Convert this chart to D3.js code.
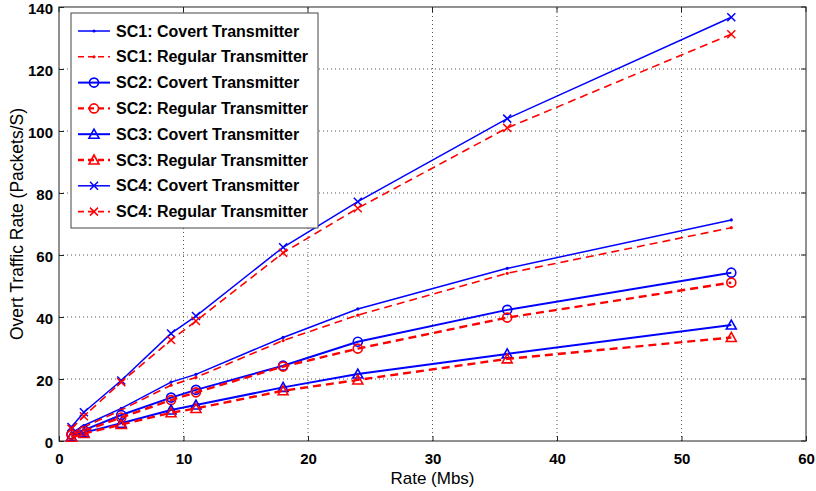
<!DOCTYPE html>
<html>
<head>
<meta charset="utf-8">
<script src="https://cdn.jsdelivr.net/npm/d3@7/dist/d3.min.js"></script>
<style>
  html, body { margin: 0; padding: 0; background: #fff; }
  svg { display: block; }
  .tick text { font-family: "Liberation Sans", Arial, sans-serif; font-weight: bold; font-size: 15px; fill: #000; }
</style>
</head>
<body>
<svg id="chart" width="816" height="491"></svg>
<script>
// Data rates (Mbps) at which the traffic was measured
const rates = [1, 2, 5, 9, 11, 18, 24, 36, 54];

// Overt traffic rate (packets/s) per scenario and transmitter type
const sc1Covert  = [2.5, 5.0, 10.5, 19.0, 21.5, 33.4, 42.6, 55.7, 71.3];
const sc1Regular = [2.3, 4.5, 10.0, 18.0, 20.5, 32.4, 40.6, 54.1, 68.8];
const sc2Covert  = [2.2, 3.5, 8.4, 14.0, 16.5, 24.3, 32.0, 42.3, 54.3];
const sc2Regular = [2.0, 3.2, 7.6, 13.2, 15.7, 24.0, 29.8, 39.8, 51.1];
const sc3Covert  = [1.4, 2.7, 5.7, 10.0, 11.6, 17.3, 21.6, 28.1, 37.4];
const sc3Regular = [1.2, 2.4, 5.3, 9.1, 10.5, 16.2, 19.7, 26.5, 33.4];
const sc4Covert  = [4.5, 9.3, 19.5, 34.7, 40.3, 62.5, 77.2, 104.0, 136.7];
const sc4Regular = [4.0, 8.0, 19.0, 32.6, 38.7, 60.7, 75.1, 101.0, 131.2];

const xTicks = [0, 10, 20, 30, 40, 50, 60];
const yTicks = [0, 20, 40, 60, 80, 100, 120, 140];

const seriesNames = [
  "SC1: Covert Transmitter", "SC1: Regular Transmitter",
  "SC2: Covert Transmitter", "SC2: Regular Transmitter",
  "SC3: Covert Transmitter", "SC3: Regular Transmitter",
  "SC4: Covert Transmitter", "SC4: Regular Transmitter"
];
const seriesValues = [sc1Covert, sc1Regular, sc2Covert, sc2Regular,
                      sc3Covert, sc3Regular, sc4Covert, sc4Regular];
const markers = ["dot", "dot", "circle", "circle", "triangle", "triangle", "cross", "cross"];

const BLUE = "#0000ff", RED = "#ff0000";
const series = seriesNames.map((name, i) => ({
  name,
  values: seriesValues[i],
  marker: markers[i],
  covert: i % 2 === 0,
  color: i % 2 === 0 ? BLUE : RED,
  width: (markers[i] === "circle" || markers[i] === "triangle") ? (i % 2 === 0 ? 2 : 2.4) : (i % 2 === 0 ? 1.5 : 1.6)
}));

const svg = d3.select("#chart");
const margin = { left: 59, right: 10, top: 7, bottom: 50 };
const W = 816, H = 491;
const x = d3.scaleLinear().domain([0, 60]).range([margin.left, W - margin.right]);
const y = d3.scaleLinear().domain([0, 140]).range([H - margin.bottom, margin.top]);

// Dotted grid
const grid = svg.append("g");
grid.selectAll("line.gx").data(xTicks.slice(1, -1)).join("line")
  .attr("x1", d => x(d)).attr("x2", d => x(d))
  .attr("y1", y(0)).attr("y2", y(140))
  .attr("stroke", "#555").attr("stroke-width", 1).attr("stroke-dasharray", "1,3");
grid.selectAll("line.gy").data(yTicks.slice(1, -1)).join("line")
  .attr("x1", x(0)).attr("x2", x(60))
  .attr("y1", d => y(d)).attr("y2", d => y(d))
  .attr("stroke", "#555").attr("stroke-width", 1).attr("stroke-dasharray", "1,3");

// Axes with inward ticks
const xAxis = svg.append("g").attr("transform", `translate(0,${y(0)})`)
  .call(d3.axisBottom(x).tickValues(xTicks).tickSizeInner(-5).tickSizeOuter(0).tickPadding(12).tickFormat(d3.format("d")));
const yAxis = svg.append("g").attr("transform", `translate(${x(0)},0)`)
  .call(d3.axisLeft(y).tickValues(yTicks).tickSizeInner(-5).tickSizeOuter(0).tickPadding(6).tickFormat(d3.format("d")));
[xAxis, yAxis].forEach(g => {
  g.select(".domain").remove();
  g.selectAll(".tick line").attr("stroke", "#222");
});
yAxis.selectAll(".tick text").attr("dy", "0.42em");
// Ticks on the top and right edges
svg.append("g").selectAll("line").data(xTicks).join("line")
  .attr("x1", d => x(d)).attr("x2", d => x(d)).attr("y1", y(140)).attr("y2", y(140) + 5)
  .attr("stroke", "#222");
svg.append("g").selectAll("line").data(yTicks).join("line")
  .attr("x1", x(60)).attr("x2", x(60) - 5).attr("y1", d => y(d)).attr("y2", d => y(d))
  .attr("stroke", "#222");

// Plot frame
svg.append("rect")
  .attr("x", x(0)).attr("y", y(140))
  .attr("width", x(60) - x(0)).attr("height", y(0) - y(140))
  .attr("fill", "none").attr("stroke", "#222").attr("stroke-width", 1);

// Axis titles
svg.append("text")
  .attr("x", (x(0) + x(60)) / 2).attr("y", 484)
  .attr("text-anchor", "middle")
  .attr("font-family", "'Liberation Sans Narrow', 'Liberation Sans', Arial, sans-serif")
  .attr("font-size", 17).text("Rate (Mbs)");
svg.append("text")
  .attr("transform", `translate(23,${(y(0) + y(140)) / 2}) rotate(-90)`)
  .attr("text-anchor", "middle")
  .attr("font-family", "'Liberation Sans', Arial, sans-serif")
  .attr("font-size", 17.5).text("Overt Traffic Rate (Packets/S)");

// Marker drawing
function drawMarker(g, type, color, cx, cy) {
  if (type === "dot") {
    g.append("circle").attr("cx", cx).attr("cy", cy).attr("r", 1.6).attr("fill", color);
  } else if (type === "circle") {
    g.append("circle").attr("cx", cx).attr("cy", cy).attr("r", 4.5)
      .attr("fill", "none").attr("stroke", color).attr("stroke-width", 1.6);
  } else if (type === "triangle") {
    const s = 5;
    g.append("path")
      .attr("d", `M${cx},${cy - s} L${cx + s},${cy + s * 0.8} L${cx - s},${cy + s * 0.8} Z`)
      .attr("fill", "none").attr("stroke", color).attr("stroke-width", 1.6);
  } else if (type === "cross") {
    const s = 4;
    g.append("path")
      .attr("d", `M${cx - s},${cy - s} L${cx + s},${cy + s} M${cx - s},${cy + s} L${cx + s},${cy - s}`)
      .attr("stroke", color).attr("stroke-width", 1.5);
  }
}

const line = d3.line().x(d => x(d[0])).y(d => y(d[1]));
const plot = svg.append("g");
series.forEach(s => {
  const pts = rates.map((r, i) => [r, s.values[i]]);
  const g = plot.append("g");
  g.append("path").datum(pts).attr("d", line)
    .attr("fill", "none").attr("stroke", s.color).attr("stroke-width", s.width)
    .attr("stroke-dasharray", s.covert ? null : "8,5");
  pts.forEach(p => drawMarker(g, s.marker, s.color, x(p[0]), y(p[1])));
});

// Legend
const lg = svg.append("g");
lg.append("rect").attr("x", 71).attr("y", 13).attr("width", 247).attr("height", 215)
  .attr("fill", "#fff").attr("stroke", "#444").attr("stroke-width", 1);
series.forEach((s, i) => {
  const yy = 31 + i * 25.8;
  lg.append("line").attr("x1", 78).attr("x2", 110).attr("y1", yy).attr("y2", yy)
    .attr("stroke", s.color).attr("stroke-width", s.width)
    .attr("stroke-dasharray", s.covert ? null : "6,4");
  drawMarker(lg, s.marker, s.color, 94, yy);
  lg.append("text").attr("x", 116).attr("y", yy + 5.5)
    .attr("font-family", "'Liberation Sans', Arial, sans-serif")
    .attr("font-weight", "bold").attr("font-size", 16)
    .text(s.name);
});
</script>
</body>
</html>
